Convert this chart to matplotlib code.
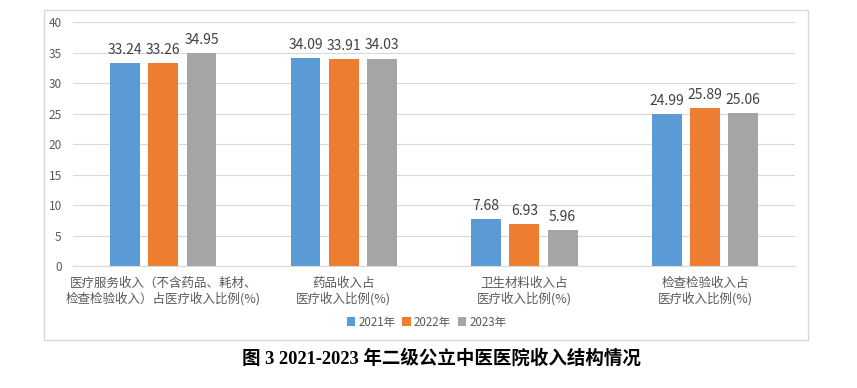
import matplotlib.pyplot as plt
import numpy as np
from matplotlib.patches import Rectangle

plt.rcParams['font.family'] = ['Noto Sans CJK SC', 'DejaVu Sans']

# Data
categories = ['医疗服务收入（不含药品、耗材、\n检查检验收入）占医疗收入比例(%)',
              '药品收入占\n医疗收入比例(%)',
              '卫生材料收入占\n医疗收入比例(%)',
              '检查检验收入占\n医疗收入比例(%)']
years = ['2021年', '2022年', '2023年']
v2021 = [33.24, 34.09, 7.68, 24.99]
v2022 = [33.26, 33.91, 6.93, 25.89]
v2023 = [34.95, 34.03, 5.96, 25.06]
colors = ['#5B9BD5', '#ED7D31', '#A5A5A5']
txt = '#595959'

fig = plt.figure(figsize=(8.57, 3.88), dpi=100)
ax = fig.add_axes([0.085, 0.314, 0.843, 0.629])

x = np.arange(len(categories))
w = 0.165
offs = [-0.212, 0, 0.212]
for vals, c, o, lab in zip([v2021, v2022, v2023], colors, offs, years):
    bars = ax.bar(x + o, vals, w, color=c, label=lab, zorder=2)
    for b, v in zip(bars, vals):
        ax.text(b.get_x() + b.get_width() / 2, v + 1.0, f'{v:.2f}',
                ha='center', va='bottom', fontsize=10, color='#404040')

ax.set_xlim(-0.5, 3.5)
ax.set_ylim(0, 40)
ax.set_yticks(range(0, 41, 5))
ax.yaxis.grid(True, color='#d9d9d9', linewidth=0.8, zorder=0)
ax.set_xticks(x)
ax.set_xticklabels(categories, fontsize=9, color=txt, linespacing=1.15)
ax.tick_params(axis='y', labelsize=8.5, colors=txt, length=0, pad=8)
ax.tick_params(axis='x', length=0, pad=8)
for s in ['top', 'right', 'left']:
    ax.spines[s].set_visible(False)
ax.spines['bottom'].set_color('#d9d9d9')

fig.legend(loc='center', bbox_to_anchor=(0.498, 0.17), ncol=3, frameon=False,
           fontsize=8.3, handlelength=0.7, handleheight=0.7, handletextpad=0.3,
           columnspacing=0.6, labelcolor=txt)

# chart frame
fig.patches.append(Rectangle((44 / 857, 1 - 340 / 388), 764 / 857, 330 / 388,
                             transform=fig.transFigure, fill=False,
                             edgecolor='#d9d9d9', linewidth=1))

fig.text(0.515, 0.077, '图 3 2021-2023 年二级公立中医医院收入结构情况',
         ha='center', va='center', fontsize=13.3, fontweight='bold',
         family=['Liberation Serif', 'Noto Sans CJK SC'])

fig.savefig('out.png', dpi=100)
